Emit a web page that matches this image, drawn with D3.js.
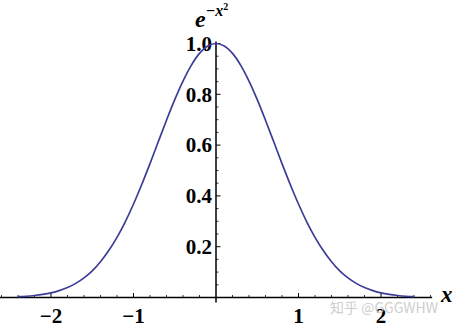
<!DOCTYPE html>
<html>
<head>
<meta charset="utf-8">
<script src="https://cdn.jsdelivr.net/npm/d3@7"></script>
<style>
  html, body { margin: 0; padding: 0; background: #fff; }
  svg { display: block; }
  .lbl { font-family: "Liberation Serif", "Times New Roman", serif; font-weight: bold; font-size: 21px; fill: #000; }
</style>
</head>
<body>
<div id="chart"></div>
<script>
(function () {
    'use strict';

    const xVals = [-2.4, -2.3, -2.2, -2.1, -2.0, -1.9, -1.8, -1.7, -1.6, -1.5, -1.4, -1.3, -1.2, -1.1, -1.0,
        -0.9, -0.8, -0.7, -0.6, -0.5, -0.4, -0.3, -0.2, -0.1, 0.0, 0.1, 0.2, 0.3, 0.4, 0.5, 0.6, 0.7, 0.8, 0.9,
        1.0, 1.1, 1.2, 1.3, 1.4, 1.5, 1.6, 1.7, 1.8, 1.9, 2.0, 2.1, 2.2, 2.3, 2.4];
    const yVals = [0.0032, 0.0050, 0.0079, 0.0122, 0.0183, 0.0271, 0.0392, 0.0556, 0.0773, 0.105, 0.141, 0.185, 0.237, 0.298, 0.368,
        0.445, 0.527, 0.613, 0.698, 0.779, 0.852, 0.914, 0.961, 0.990, 1.0, 0.990, 0.961, 0.914, 0.852, 0.779, 0.698, 0.613, 0.527, 0.445,
        0.368, 0.298, 0.237, 0.185, 0.141, 0.105, 0.0773, 0.0556, 0.0392, 0.0271, 0.0183, 0.0122, 0.0079, 0.0050, 0.0032];

    const xTicks = [-2, -1, 1, 2];
    const xTickLabels = ["\u22122", "\u22121", "1", "2"];
    const yTicks = [0.2, 0.4, 0.6, 0.8, 1.0];
    const yTickLabels = ["0.2", "0.4", "0.6", "0.8", "1.0"];

    const width = 454;
    const height = 328;

    const svg = d3.select("#chart").append("svg")
        .attr("width", width)
        .attr("height", height)
        .attr("viewBox", `0 0 ${width} ${height}`);

    const x = d3.scaleLinear().domain([-2, 2]).range([51, 381]);
    const y = d3.scaleLinear().domain([0, 1]).range([297.5, 43.5]);

    const x0 = x(0);
    const y0 = y(0);

    // minor ticks
    svg.append("g")
        .selectAll("line")
        .data(x.copy().domain([-2.6, 2.6]).ticks(26).filter(t => Math.abs(t) > 1e-9 && xTicks.indexOf(Math.round(t * 10) / 10) < 0))
        .enter().append("line")
        .attr("x1", d => x(d)).attr("x2", d => x(d))
        .attr("y1", y0).attr("y2", y0 - 2.5)
        .attr("stroke", "#000").attr("stroke-width", 0.8);

    svg.append("g")
        .selectAll("line")
        .data(d3.range(1, 21).map(i => i * 0.05).filter(t => yTicks.every(v => Math.abs(v - t) > 1e-6)))
        .enter().append("line")
        .attr("x1", x0).attr("x2", x0 + 2.5)
        .attr("y1", d => y(d)).attr("y2", d => y(d))
        .attr("stroke", "#000").attr("stroke-width", 0.8);

    // major ticks
    svg.append("g")
        .selectAll("line")
        .data(xTicks)
        .enter().append("line")
        .attr("x1", d => x(d)).attr("x2", d => x(d))
        .attr("y1", y0).attr("y2", y0 - 4.5)
        .attr("stroke", "#000").attr("stroke-width", 1);

    svg.append("g")
        .selectAll("line")
        .data(yTicks)
        .enter().append("line")
        .attr("x1", x0).attr("x2", x0 + 4.5)
        .attr("y1", d => y(d)).attr("y2", d => y(d))
        .attr("stroke", "#000").attr("stroke-width", 1);

    // axis lines
    svg.append("line")
        .attr("x1", x(-2.62)).attr("x2", x(2.62))
        .attr("y1", y0).attr("y2", y0)
        .attr("stroke", "#000").attr("stroke-width", 1.5);

    svg.append("line")
        .attr("x1", x0).attr("x2", x0)
        .attr("y1", y(-0.02)).attr("y2", y(1.008))
        .attr("stroke", "#000").attr("stroke-width", 1.5);

    // tick labels
    svg.append("g")
        .selectAll("text")
        .data(xTicks)
        .enter().append("text")
        .attr("class", "lbl")
        .attr("x", d => x(d))
        .attr("y", 322.5)
        .attr("text-anchor", "middle")
        .text((d, i) => xTickLabels[i]);

    svg.append("g")
        .selectAll("text")
        .data(yTicks)
        .enter().append("text")
        .attr("class", "lbl")
        .attr("x", x0 - 4)
        .attr("y", d => y(d))
        .attr("dy", "0.35em")
        .attr("text-anchor", "end")
        .text((d, i) => yTickLabels[i]);

    // curve
    const line = d3.line()
        .x((d, i) => x(xVals[i]))
        .y(d => y(d))
        .curve(d3.curveCatmullRom);

    svg.append("path")
        .datum(yVals)
        .attr("d", line)
        .attr("fill", "none")
        .attr("stroke", "#3d3d99")
        .attr("stroke-width", 1.7);

    // axis labels
    const yl = svg.append("text")
        .attr("x", 195)
        .attr("y", 26.5)
        .style("font-family", "'Liberation Serif', 'Times New Roman', serif")
        .style("font-weight", "bold")
        .style("font-style", "italic")
        .style("font-size", "24px");
    yl.append("tspan").text("e");
    yl.append("tspan").attr("dy", -11).style("font-size", "16px").text("\u2212x");
    yl.append("tspan").attr("dy", -6).style("font-size", "10px").style("font-style", "normal").text("2");

    svg.append("text")
        .attr("x", 441)
        .attr("y", 302)
        .style("font-family", "'Liberation Serif', 'Times New Roman', serif")
        .style("font-weight", "bold")
        .style("font-style", "italic")
        .style("font-size", "23px")
        .text("x");

    // watermark
    svg.append("text")
        .attr("x", 330)
        .attr("y", 313)
        .style("font-family", "'Noto Sans CJK SC', 'Noto Sans', sans-serif")
        .style("font-size", "14px")
        .attr("fill", "#c4c4c4")
        .attr("fill-opacity", 0.85)
        .text("知乎 @GGGWHW");
})();
</script>
</body>
</html>
